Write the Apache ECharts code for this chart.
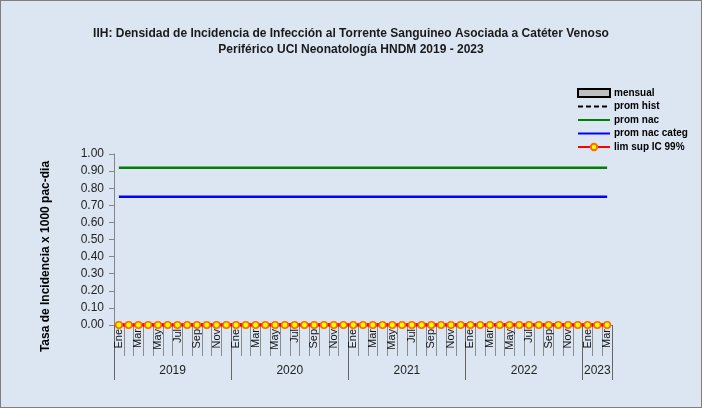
<!DOCTYPE html>
<html>
<head>
<meta charset="utf-8">
<script src="https://cdn.jsdelivr.net/npm/echarts@6/dist/echarts.min.js"></script>
<style>
  html, body { margin: 0; padding: 0; background: #fff; }
  #chart { width: 702px; height: 408px; box-sizing: border-box; border: 1px solid #7f7f7f; background: #dce6f2; }
</style>
</head>
<body>
<div id="chart"></div>
<script>
// categorías: meses Ene 2019 - Mar 2023
const mesesBase = ['Ene', 'Feb', 'Mar', 'Abr', 'May', 'Jun', 'Jul', 'Ago', 'Sep', 'Oct', 'Nov', 'Dic']
const meses = [...mesesBase, ...mesesBase, ...mesesBase, ...mesesBase, 'Ene', 'Feb', 'Mar']
const anios = ['2019', '2020', '2021', '2022', '2023']
const limitesAnio = [0, 12, 24, 36, 48, 51]     // límites de cada año (índice de mes)
const centrosAnio = [6, 18, 30, 42, 49.5]

// series
const mensual = meses.map(() => 0)
const promHist = meses.map(() => 0)
const promNac = meses.map(() => 0.92)
const promNacCateg = meses.map(() => 0.75)
const limSup = meses.map(() => 0)

const font = '"Liberation Sans", Arial, sans-serif'
const chart = echarts.init(document.getElementById('chart'))

// sin símbolo en la leyenda para las líneas simples
const sinSimbolo = {itemStyle: {opacity: 0}}

const option = {
  animation: false,
  textStyle: {fontFamily: font},
  title: {
    text: 'IIH: Densidad de Incidencia de Infección al Torrente Sanguineo Asociada a Catéter Venoso\nPeriférico UCI Neonatología HNDM 2019 - 2023',
    left: 'center',
    top: 20,
    textStyle: {fontSize: 12, fontWeight: 'bold', color: '#1a1a1a', lineHeight: 16, fontFamily: font}
  },
  legend: {
    orient: 'vertical',
    left: 571,
    top: 81,
    itemWidth: 32,
    itemHeight: 8,
    itemGap: 1.5,
    textStyle: {fontSize: 10, fontWeight: 'bold', color: '#000', padding: [0, 0, 0, -1], lineHeight: 12, fontFamily: font},
    data: [
      {name: 'mensual', icon: 'rect'},
      {name: 'prom hist', ...sinSimbolo},
      {name: 'prom nac', ...sinSimbolo},
      {name: 'prom nac categ', ...sinSimbolo},
      {name: 'lim sup IC 99%'}
    ]
  },
  grid: {left: 113, right: 89, top: 153, bottom: 82},
  xAxis: [
    {
      type: 'category',
      data: meses,
      boundaryGap: true,
      axisLine: {lineStyle: {color: '#868686'}},
      axisTick: {show: true, interval: 0, length: 31, lineStyle: {color: '#8c8c8c'}},
      axisLabel: {interval: 1, rotate: 90, fontSize: 11, color: '#111', margin: 4, fontFamily: font}
    },
    {
      type: 'value',
      position: 'bottom',
      min: 0,
      max: meses.length,
      axisLine: {show: false},
      splitLine: {show: false},
      axisTick: {show: true, customValues: limitesAnio, length: 55, lineStyle: {color: '#666'}},
      axisLabel: {
        customValues: centrosAnio,
        margin: 40,
        fontSize: 12,
        color: '#222',
        fontFamily: font,
        formatter: v => anios[centrosAnio.indexOf(v)]
      }
    }
  ],
  yAxis: {
    type: 'value',
    min: 0,
    max: 1,
    interval: 0.1,
    name: 'Tasa de Incidencia x 1000 pac-dia',
    nameLocation: 'middle',
    nameGap: 62,
    nameTextStyle: {fontSize: 12, fontWeight: 'bold', color: '#000', padding: [0, 34, 0, 0], fontFamily: font},
    axisLine: {show: true, lineStyle: {color: '#868686'}},
    axisTick: {show: true, length: 5, lineStyle: {color: '#868686'}},
    splitLine: {show: false},
    axisLabel: {fontSize: 12, color: '#222', margin: 10, fontFamily: font, formatter: v => v.toFixed(2)}
  },
  series: [
    {
      name: 'mensual', type: 'bar', data: mensual, barWidth: '60%',
      itemStyle: {color: '#bfbfbf', borderColor: '#000', borderWidth: 1}
    },
    {
      name: 'prom hist', type: 'line', data: promHist, symbol: 'none',
      lineStyle: {color: '#000', width: 2.5, type: [5, 3]}, itemStyle: {color: '#000'}
    },
    {
      name: 'prom nac', type: 'line', data: promNac, symbol: 'none',
      lineStyle: {color: '#008000', width: 2.5}, itemStyle: {color: '#008000'}
    },
    {
      name: 'prom nac categ', type: 'line', data: promNacCateg, symbol: 'none',
      lineStyle: {color: '#0000ff', width: 2.5}, itemStyle: {color: '#0000ff'}
    },
    {
      name: 'lim sup IC 99%', type: 'line', data: limSup, symbol: 'circle', symbolSize: 6.5, z: 5,
      showAllSymbol: true,
      lineStyle: {color: '#ff0000', width: 3.5},
      itemStyle: {color: '#ffff00', borderColor: '#ff6a00', borderWidth: 1.6}
    }
  ]
}

chart.setOption(option)
</script>
</body>
</html>
